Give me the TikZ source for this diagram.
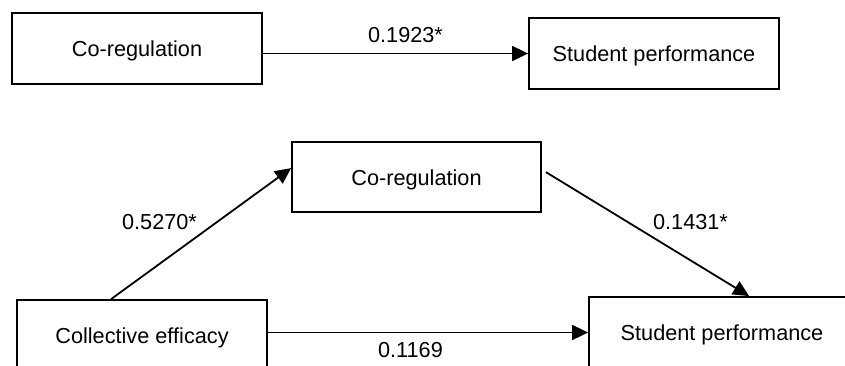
\documentclass[tikz,border=0pt]{standalone}
\usepackage{fontspec}
\setmainfont{Liberation Sans}
\usetikzlibrary{arrows.meta}
\begin{document}
\begin{tikzpicture}[x=1pt,y=-1pt,
  every node/.style={font=\fontsize{21.7}{26}\selectfont},
  box/.style={draw, line width=1.8pt, minimum width=250pt, minimum height=71pt,
    inner sep=0pt, text height=20pt, text depth=4pt},
  conn/.style={line width=1.8pt, -{Triangle[length=16pt,width=15pt]}},
  lbl/.style={inner sep=0pt}]
\useasboundingbox (0,0) rectangle (845,365);
\clip (0,0) rectangle (845,365);
% top model
\node[box] (cr1) at (137,48.5) {Co-regulation};
\node[box] (sp1) at (654,53.5) {Student performance};
\draw[conn] (cr1.east |- sp1.west) -- (sp1.west);
\node[lbl] (l1) at (405.5,35.5) {0.1923*};
% bottom model
\node[box, minimum width=249pt, minimum height=70pt] (cr2) at (416.5,177) {Co-regulation};
\node[box] (ce) at (142,335.5) {Collective efficacy};
\node[box, minimum width=266pt] (sp2) at (722,332.5) {Student performance};
\draw[conn] ([xshift=95pt]ce.north west) -- ([yshift=-27pt]cr2.north west);
\draw[conn] ([xshift=4pt,yshift=-31pt]cr2.north east) -- ([xshift=161pt]sp2.north west);
\draw[conn] (ce.east |- sp2.west) -- (sp2.west);
\node[lbl] (l2) at (159.5,222.5) {0.5270*};
\node[lbl] (l3) at (690.5,222.5) {0.1431*};
\node[lbl] (l4) at (410.5,350.5) {0.1169};
\end{tikzpicture}
\end{document}
